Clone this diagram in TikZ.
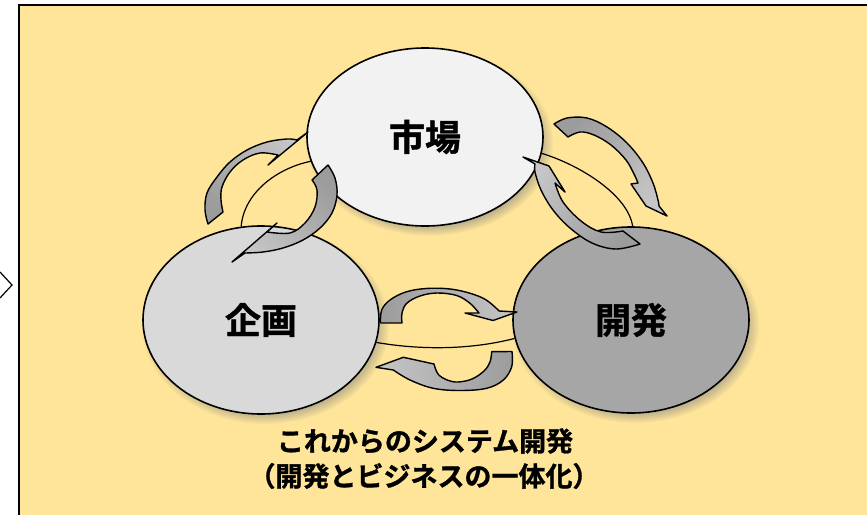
\documentclass[tikz,border=0pt]{standalone}
\usepackage{fontspec}
\newfontfamily\jpb{Noto Sans CJK JP Bold}[FakeBold=1.2]
\usetikzlibrary{shapes.geometric,shadows,fadings}
\definecolor{bgy}{HTML}{FFE599}
\definecolor{cmk}{HTML}{F2F2F2}
\definecolor{ckk}{HTML}{D9D9D9}
\definecolor{ckh}{HTML}{A6A6A6}
\definecolor{adark}{HTML}{9C9C9C}
\definecolor{alight}{HTML}{C6C6C6}
\begin{document}
\begin{tikzpicture}[x=1pt,y=-1pt,
  bubble/.style={ellipse, draw=black, line width=1.6pt, inner sep=0pt,
    minimum width=236pt, font=\jpb\fontsize{36}{40}\selectfont,
    circular drop shadow={shadow xshift=4pt, shadow yshift=-5pt, shadow scale=1.05, opacity=.7}},
  cyc/.style={draw=black, line width=1.4pt, line join=round, top color=alight, bottom color=adark},
  link/.style={draw=black, line width=1.2pt},
  caption/.style={inner sep=0pt, font=\jpb\fontsize{27}{30}\selectfont}]
\useasboundingbox (0,0) rectangle (867,514);
\clip (0,0) rectangle (867,514);
% background panel and left chevron
\draw[fill=bgy, line width=2pt] (19,5) rectangle (900,540);
\draw[line width=1.2pt] (0,272) -- (12,285) -- (0,298);
% bubbles
\node[bubble, fill=cmk, minimum height=178pt] (mk) at (425,137) {市場};
\node[bubble, fill=ckk, minimum height=188pt] (kk) at (261,320) {企画};
\node[bubble, fill=ckh, minimum height=186pt] (kh) at (631,320) {開発};
% thin links
\draw[link] (mk.192) .. controls (278,168) and (244,192) .. (kk.102);
\draw[link] (mk.352) .. controls (580,165) and (628,195) .. (kh.89);
\draw[link] (kk.349) .. controls (420,350) and (470,350) .. (kh.189);
% pair 1 (kk <-> mk)
\path[cyc, shading angle=-46] (223,212) -- (208,224) -- plot[smooth, tension=0.6] coordinates {(208,224) (205,210) (207,193) (217,177) (230,162) (247,150) (267,142) (287,139) (297,140)}
  -- (308,132) -- (268,165) -- (278,155)
  -- plot[smooth, tension=0.6] coordinates {(278,155) (260,153) (243,160) (230,172) (222,187) (221,200) (223,212)} -- cycle;
\path[cyc, shading angle=136] (312,180) -- (328,165) -- plot[smooth, tension=0.6] coordinates {(328,165) (335,178) (337,195) (332,213) (320,228) (303,240) (283,248) (263,252) (245,253)}
  -- (232,262) -- (277,223) -- (267,232)
  -- plot[smooth, tension=0.6] coordinates {(267,232) (290,233) (305,223) (315,207) (317,190) (312,180)} -- cycle;
% pair 2 (mk <-> kh)
\path[cyc, shading angle=-129] (568,137) -- (554,124) -- plot[smooth, tension=0.6] coordinates {(554,124) (567,118) (587,118) (607,127) (627,143) (643,163) (653,183) (658,200) (659,206)}
  -- (667,216) -- (646,206) -- (631,184) -- (638,183)
  -- plot[smooth, tension=0.6] coordinates {(638,183) (634,174) (626,160) (611,145) (594,135) (580,132) (568,137)} -- cycle;
\path[cyc, shading angle=53] (623,231) -- (640,244) -- plot[smooth, tension=0.6] coordinates {(640,244) (616,249) (592,243) (570,228) (553,210) (541,190) (535,172) (535,164)}
  -- (523,157) -- (549,166) -- (565,192) -- (555,183)
  -- plot[smooth, tension=0.6] coordinates {(555,183) (563,202) (581,221) (601,232) (623,231)} -- cycle;
% pair 3 (kk <-> kh)
\path[cyc, shading angle=-90] (402,323) -- (380.5,323) -- plot[smooth, tension=0.6] coordinates {(380.5,323) (381.7,310) (390,300) (406.7,291.7) (430,288.3) (456.7,290) (483.3,298.3) (499,311)}
  -- (517,312) -- (493,320.5) -- (465,313) -- (479,313)
  -- plot[smooth, tension=0.6] coordinates {(479,313) (470,303.3) (456.7,295.5) (437,293) (420,296) (406.7,303.3) (402,313.3) (402,323)} -- cycle;
\path[cyc, shading angle=90] (491.7,351.7) -- (512,351.5) -- plot[smooth, tension=0.6] coordinates {(512,351.5) (511.7,366.7) (503.3,380) (486.7,388.3) (460,390.5) (433.3,388.3) (410,380) (393.3,370)}
  -- (376,367.3) -- (403.3,357.3) -- (434,364)
  -- plot[smooth, tension=0.6] coordinates {(434,364) (438,374) (447,380) (458,382) (472,379) (484,371) (490,362) (491.7,351.7)} -- cycle;
% caption
\node[caption] (t1) at (425,441) {これからのシステム開発};
\node[caption] (t2) at (424,476) {（開発とビジネスの一体化）};
\end{tikzpicture}
\end{document}
